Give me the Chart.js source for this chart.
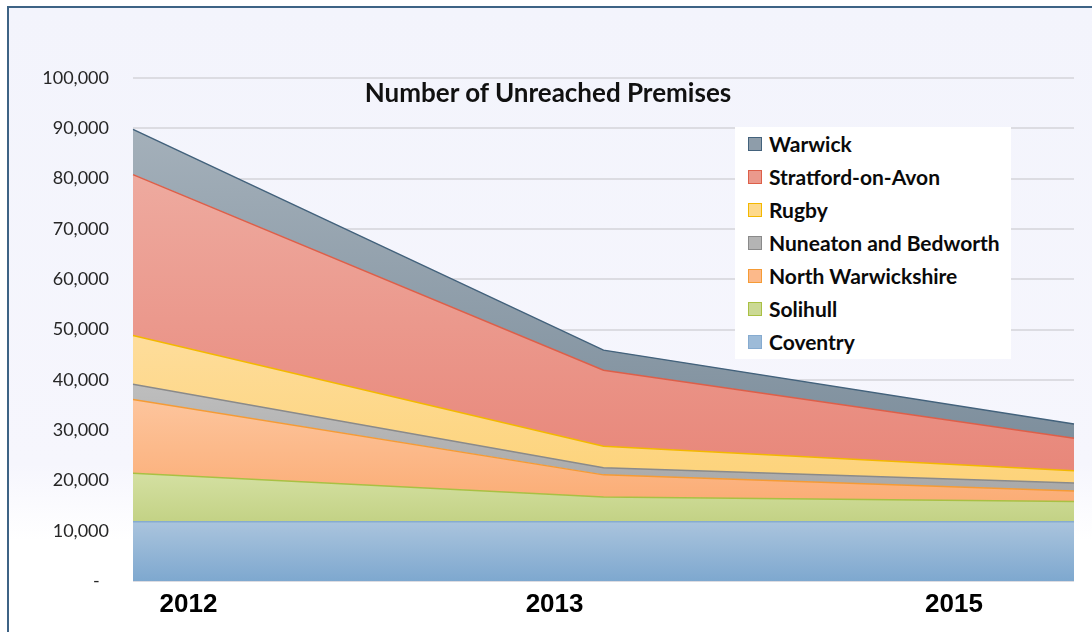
<!DOCTYPE html>
<html>
<head>
<meta charset="utf-8">
<script src="https://cdn.jsdelivr.net/npm/chart.js@4.4.1/dist/chart.umd.min.js"></script>
<style>
  html, body { margin: 0; padding: 0; background: #ffffff; }
  #wrap { position: relative; width: 1092px; height: 632px; overflow: hidden; }
  #frame {
    position: absolute; left: 7px; top: 6px; right: -10px; bottom: -10px;
    border-left: 2px solid #3d6385; border-top: 2px solid #3d6385;
    background: linear-gradient(to bottom, #f3f4fc 0%, #f6f6fd 72%, #ffffff 84%, #ffffff 100%);
  }
  #c { position: absolute; left: 0; top: 0; }
  #title {
    position: absolute; left: 348px; width: 400px; top: 79px; text-align: center;
    font-family: Lato, "Open Sans", sans-serif; font-weight: bold; font-size: 26px; line-height: 26px;
    color: #111111; white-space: nowrap;
  }
  #legend {
    position: absolute; left: 735px; top: 127px; width: 276px; height: 232px; background: #ffffff;
  }
  .item { height: 33.07px; display: flex; align-items: center; padding-left: 13px; box-sizing: border-box; }
  .sw { width: 12px; height: 12px; margin-right: 7px; flex: none; }
  .lbl { font-family: Lato, "Open Sans", sans-serif; font-weight: bold; font-size: 21px; color: #0a0a0a; white-space: nowrap; }
</style>
</head>
<body>
<div id="wrap">
  <div id="frame"></div>
  <canvas id="c" width="1092" height="632"></canvas>
  <div id="title">Number of Unreached Premises</div>
  <div id="legend"></div>
</div>
<script>
// ---- data ----
const categories = ['2012', '2013', '2015'];
const seriesNames = ['Coventry', 'Solihull', 'North Warwickshire', 'Nuneaton and Bedworth', 'Rugby', 'Stratford-on-Avon', 'Warwick'];
const coventry          = [11800, 11800, 11800];
const solihull          = [9600, 4900, 4000];
const northWarwickshire = [14700, 4400, 2100];
const nuneatonBedworth  = [3000, 1400, 1600];
const rugby             = [9700, 4300, 2400];
const stratfordOnAvon   = [32000, 15100, 6500];
const warwick           = [9000, 4000, 2800];
const yTickValues = [0, 10000, 20000, 30000, 40000, 50000, 60000, 70000, 80000, 90000, 100000];

// ---- styles ----
const styles = [
  { top: '#aac4dd', bottom: '#7ea8cf', line: '#86abd0', swatch: '#9dbbd8' },
  { top: '#d4e0a2', bottom: '#c3d285', line: '#a9c043', swatch: '#cbd994' },
  { top: '#fdc59d', bottom: '#fbad76', line: '#f59b35', swatch: '#fcb98a' },
  { top: '#bebebe', bottom: '#a9a9a9', line: '#8a8a8a', swatch: '#b4b4b4' },
  { top: '#fedd9b', bottom: '#fdd37a', line: '#f3b800', swatch: '#fed98b' },
  { top: '#eeaa9f', bottom: '#e8877a', line: '#dd5f49', swatch: '#eb998c' },
  { top: '#a4b0ba', bottom: '#7e8f9d', line: '#43627c', swatch: '#8e9daa' }
];
const seriesData = [coventry, solihull, northWarwickshire, nuneatonBedworth, rugby, stratfordOnAvon, warwick];

function bandGradient(context) {
  const chart = context.chart;
  const i = context.datasetIndex;
  const st = styles[i];
  const area = chart.chartArea;
  if (!area || !chart.scales.y) return st.top;
  const ds = chart.data.datasets;
  let maxTop = -Infinity, minBottom = Infinity;
  for (let k = 0; k < categories.length; k++) {
    let below = 0;
    for (let j = 0; j < i; j++) below += ds[j].data[k];
    maxTop = Math.max(maxTop, below + ds[i].data[k]);
    minBottom = Math.min(minBottom, below);
  }
  const y0 = chart.scales.y.getPixelForValue(maxTop);
  const y1 = chart.scales.y.getPixelForValue(minBottom);
  const g = chart.ctx.createLinearGradient(0, y0, 0, y1);
  g.addColorStop(0, st.top);
  g.addColorStop(1, st.bottom);
  return g;
}

const datasets = seriesNames.map((name, i) => ({
  label: name,
  data: seriesData[i],
  fill: i === 0 ? 'origin' : '-1',
  backgroundColor: bandGradient,
  borderColor: styles[i].line,
  borderWidth: 1.5,
  pointRadius: 0,
  pointHoverRadius: 0,
  tension: 0
}));

// label positions for the year captions (fraction of the category span)
const yearLabelPos = [0.118, 0.896, 1.745];

const chart = new Chart(document.getElementById('c'), {
  type: 'line',
  data: { labels: categories, datasets: datasets },
  options: {
    responsive: false,
    animation: false,
    events: [],
    layout: { padding: { top: 78, right: 18, left: 0, bottom: 0 } },
    plugins: { legend: { display: false }, title: { display: false }, tooltip: { enabled: false } },
    scales: {
      x: {
        type: 'category', axis: 'x', position: 'bottom', display: false, offset: false
      },
      xl: {
        type: 'linear', axis: 'x', position: 'bottom', min: 0, max: categories.length - 1,
        grid: { display: false, drawTicks: false }, border: { display: false },
        afterBuildTicks: s => { s.ticks = yearLabelPos.map(v => ({ value: v })); },
        afterFit: s => { s.height = 51; },
        ticks: {
          autoSkip: false, maxRotation: 0, padding: 8,
          callback: (v, idx) => categories[idx],
          color: '#000000',
          font: { family: '"Liberation Sans", Arial, sans-serif', weight: 'bold', size: 26 }
        }
      },
      y: {
        stacked: true, min: 0, max: 100000,
        afterBuildTicks: s => { s.ticks = yTickValues.map(v => ({ value: v })); },
        afterFit: s => { s.width = 133; },
        grid: { color: '#dcdce2', lineWidth: 2, drawTicks: false },
        border: { display: false },
        ticks: {
          padding: 24,
          color: '#262626',
          font: { family: 'Lato, "Open Sans", sans-serif', size: 18 },
          callback: v => v === 0 ? '-  ' : v.toLocaleString('en-US')
        }
      }
    }
  }
});

// HTML legend built from the chart's datasets (reverse order, top series first)
const legendEl = document.getElementById('legend');
chart.data.datasets.slice().reverse().forEach((ds, r) => {
  const i = chart.data.datasets.length - 1 - r;
  const item = document.createElement('div');
  item.className = 'item';
  const sw = document.createElement('span');
  sw.className = 'sw';
  sw.style.background = styles[i].swatch;
  sw.style.border = '1px solid ' + styles[i].line;
  const lbl = document.createElement('span');
  lbl.className = 'lbl';
  lbl.textContent = ds.label;
  item.appendChild(sw);
  item.appendChild(lbl);
  legendEl.appendChild(item);
});
</script>
</body>
</html>
